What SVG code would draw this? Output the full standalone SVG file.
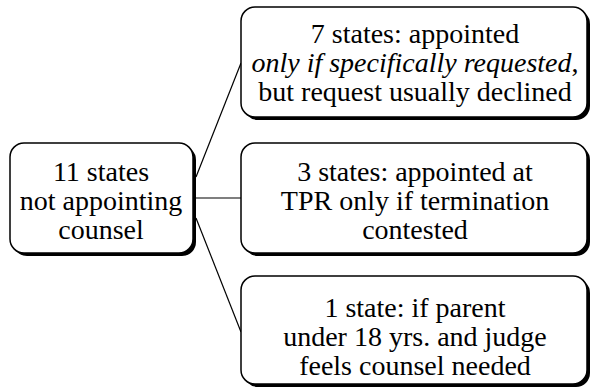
<svg xmlns="http://www.w3.org/2000/svg" width="591" height="389" viewBox="0 0 591 389">
<style>
.shadow{fill:#000}
.box{fill:#fff;stroke:#000;stroke-width:1.5}
.t{font-family:"Liberation Serif","Times New Roman",serif;font-size:28px;fill:#000;text-anchor:middle}
.it{font-style:italic}
.c{stroke:#000;stroke-width:1.2;fill:none}
</style>
<rect width="591" height="389" fill="#fff"/>
<g id="connectors">
<line class="c" x1="196" y1="177" x2="241" y2="63"/>
<line class="c" x1="196" y1="198" x2="241" y2="198"/>
<line class="c" x1="196" y1="218" x2="241" y2="332"/>
</g>
<g id="root">
<rect class="shadow" x="13" y="146" width="183" height="110" rx="14"/>
<rect class="box" x="10" y="143" width="183" height="110" rx="14"/>
<text class="t" x="101" y="181">11 states</text>
<text class="t" x="101" y="210">not appointing</text>
<text class="t" x="101" y="239">counsel</text>
</g>
<g id="top">
<rect class="shadow" x="244" y="10" width="346" height="110" rx="14"/>
<rect class="box" x="241" y="7" width="346" height="110" rx="14"/>
<text class="t" x="415" y="43">7 states: appointed</text>
<text class="t" x="415" y="72"><tspan class="it">only if specifically requested</tspan>,</text>
<text class="t" x="415" y="101">but request usually declined</text>
</g>
<g id="middle">
<rect class="shadow" x="244" y="146" width="346" height="110" rx="14"/>
<rect class="box" x="241" y="143" width="346" height="110" rx="14"/>
<text class="t" x="415" y="181">3 states: appointed at</text>
<text class="t" x="415" y="210">TPR only if termination</text>
<text class="t" x="415" y="239">contested</text>
</g>
<g id="bottom">
<rect class="shadow" x="244" y="279" width="346" height="108" rx="14"/>
<rect class="box" x="241" y="276" width="346" height="108" rx="14"/>
<text class="t" x="415" y="317">1 state: if parent</text>
<text class="t" x="415" y="346">under 18 yrs. and judge</text>
<text class="t" x="415" y="375">feels counsel needed</text>
</g>
</svg>
